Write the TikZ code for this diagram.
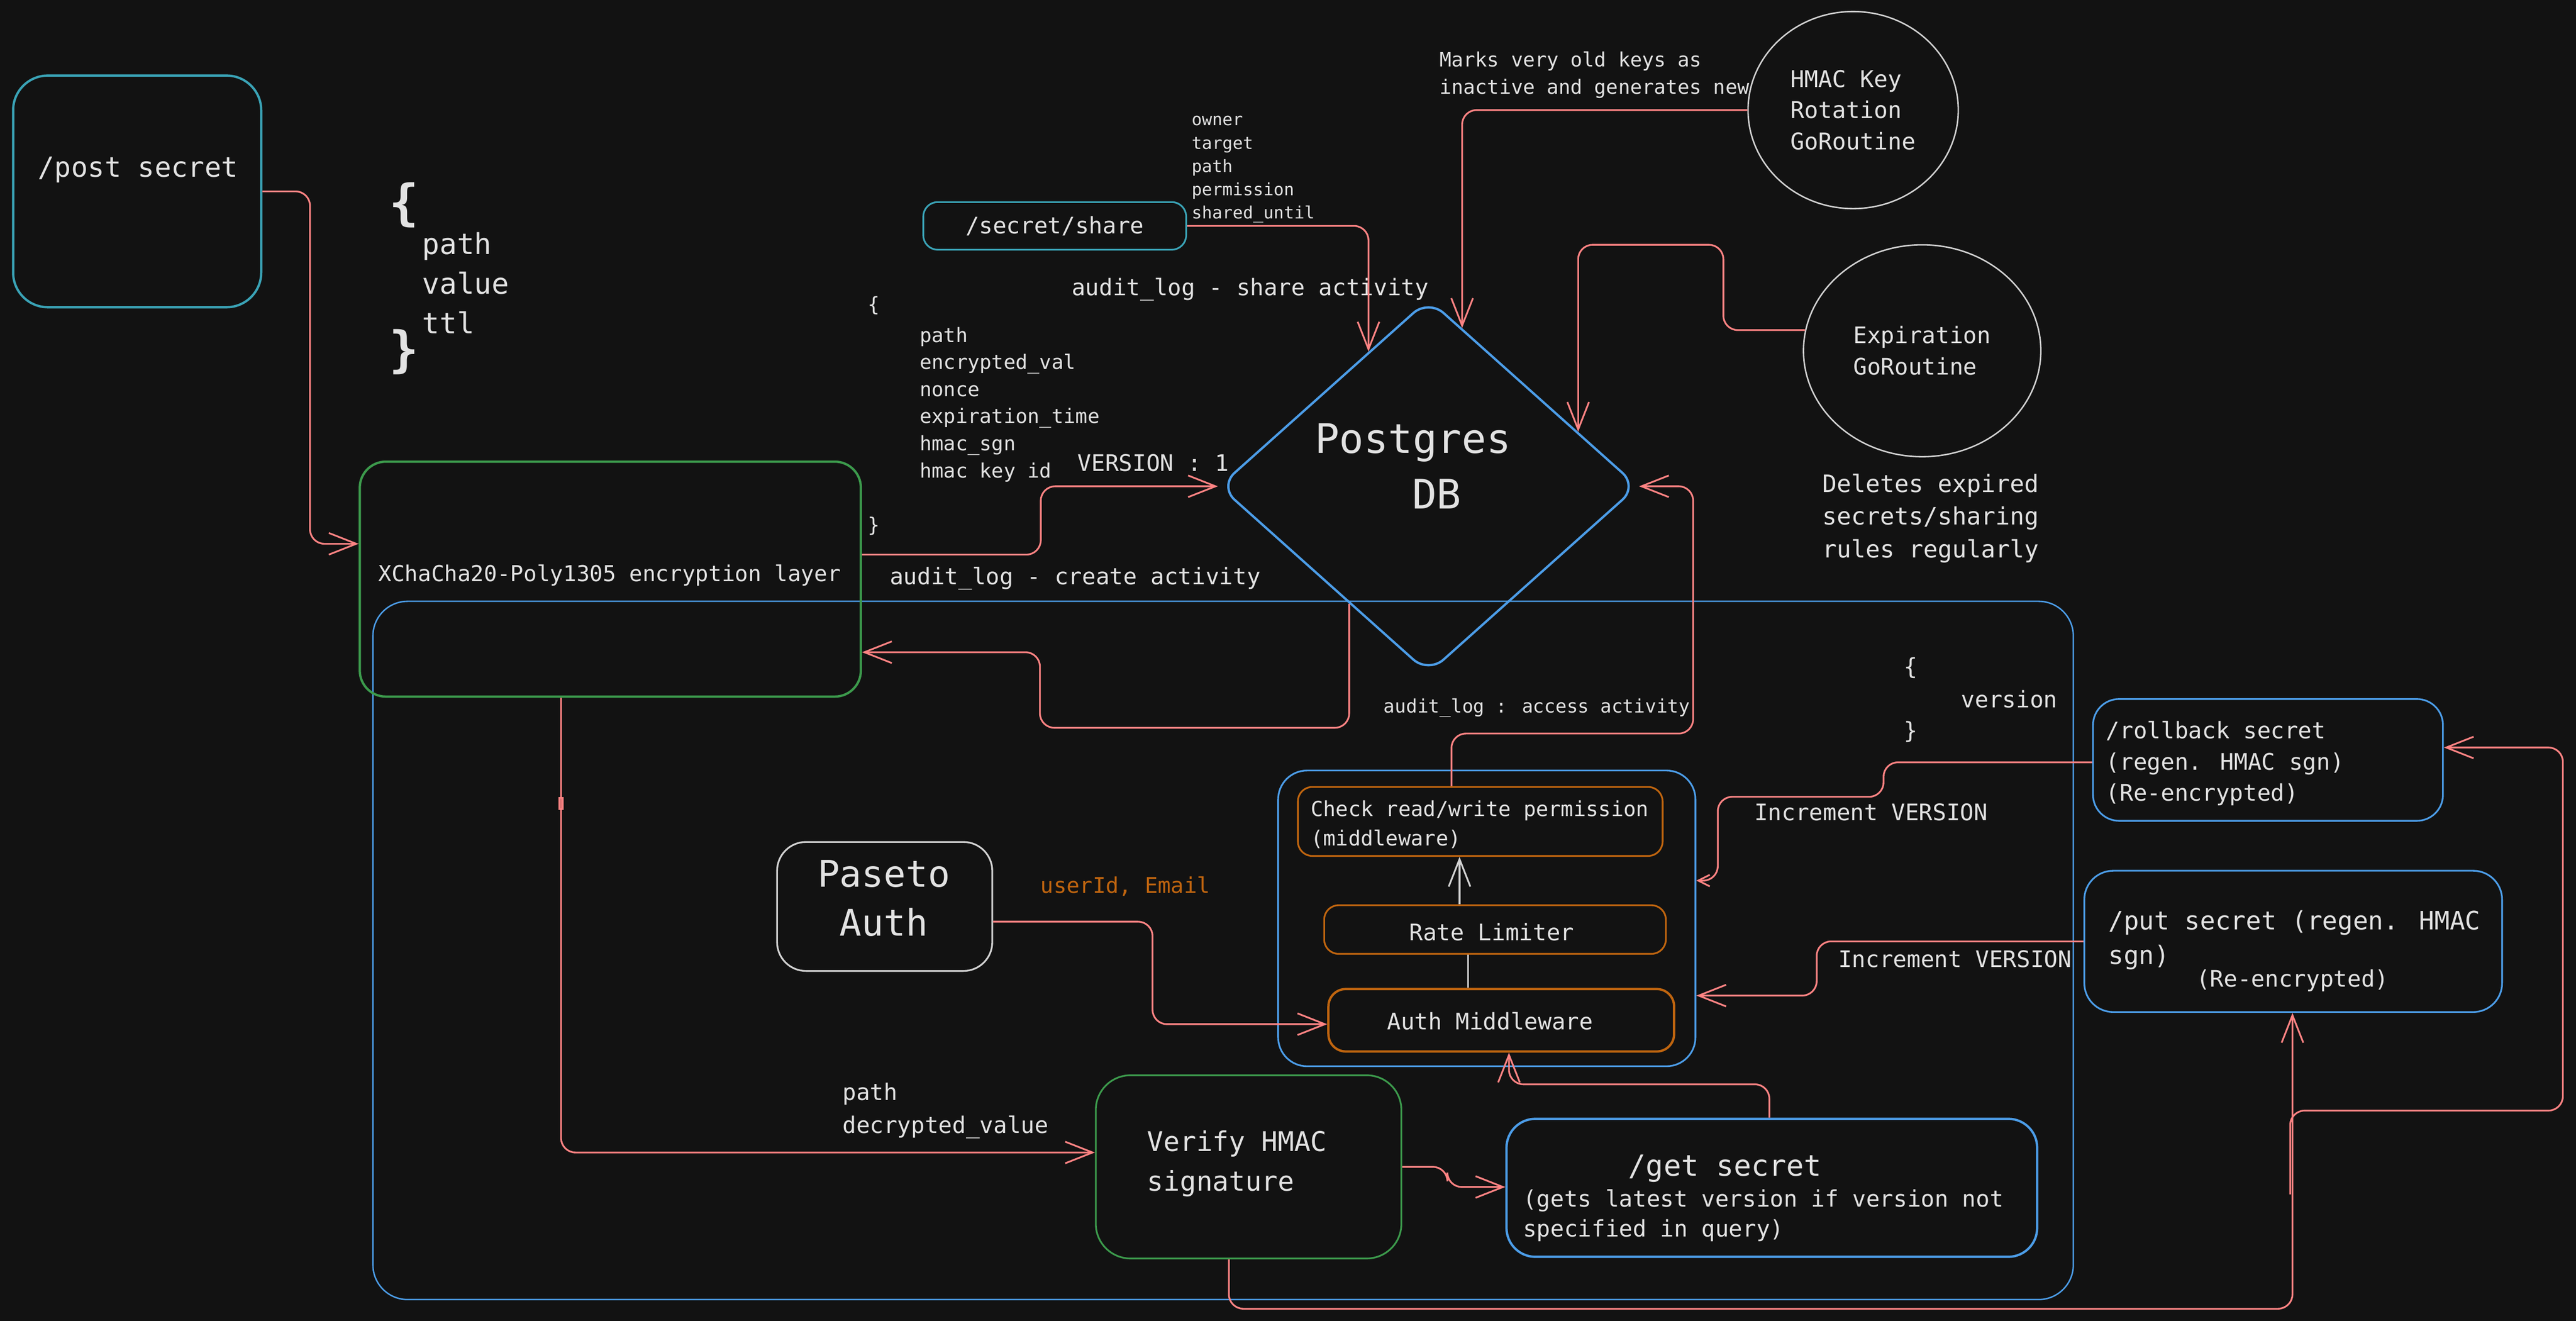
\documentclass[tikz,border=0pt]{standalone}
\usepackage{fontspec}
\setmainfont{DejaVu Sans Mono}
\usepackage{tikz}
\usetikzlibrary{arrows.meta,fit,shapes.geometric}

\definecolor{bgcol}{HTML}{121212}
\definecolor{txtcol}{HTML}{E2E2E2}
\definecolor{redcol}{HTML}{FF8383}
\definecolor{bluecol}{HTML}{4C9DE8}
\definecolor{cyancol}{HTML}{3AA3B6}
\definecolor{greencol}{HTML}{3C9A4C}
\definecolor{orangecol}{HTML}{C0650F}
\definecolor{graycol}{HTML}{D2D2D2}

\newcommand{\tsize}[2]{\fontsize{#1}{#2}\selectfont}

\begin{document}
\begin{tikzpicture}[x=0.02cm, y=-0.02cm]
    \tikzstyle{txt} = [text=txtcol, inner sep=0pt, text height=0.74em, text depth=0.2em, font=\tsize{7.9}{9.5}]
    \tikzstyle{rbox} = [draw, line width=0.6pt, rounded corners=8pt, inner sep=0pt]
    \tikzstyle{sketch} = [line width=0.8pt]
    \tikzstyle{arr} = [draw=redcol, line width=0.6pt, rounded corners=5pt, -{Straight Barb[length=9.5pt,width=7.5pt]}]
    \tikzstyle{smallarr} = [draw=redcol, line width=0.6pt, rounded corners=5pt, -{Straight Barb[length=4pt,width=4pt]}]
    \tikzstyle{roundproc} = [ellipse, draw=graycol, line width=0.5pt, inner sep=0pt, text=txtcol, align=left]

    % Canvas
    \useasboundingbox (0,0) rectangle (1568,804);
    \fill[bgcol] (0,0) rectangle (1568,804);

    % API container
    \node[rbox, draw=bluecol, line width=0.5pt, rounded corners=12pt, fit={(227,366) (1262,791)}] (api) {};

    % /post secret and its body
    \node[rbox, sketch, draw=cyancol, rounded corners=12pt, fit={(8,46) (159,187)}] (post) {};
    \node[txt, font=\tsize{9.6}{11}] (posttxt) at (84,103) {/post secret};
    \node[txt, font=\bfseries\tsize{17}{17}] (postopen) at (246,129) {\{};
    \foreach \f [count=\i from 0] in {path,value,ttl}
        \node[txt, font=\tsize{10}{12}, anchor=west] (postbody\i) at (256.7,150+24.2*\i) {\f};
    \node[txt, font=\bfseries\tsize{17}{17}] (postclose) at (246,218.5) {\}};

    % Encryption layer
    \node[rbox, sketch, draw=greencol, rounded corners=9pt, fit={(219,281) (524,424)}] (enc) {};
    \node[txt, font=\tsize{7.6}{9}, anchor=west] (enctxt) at (230,349) {XChaCha20-Poly1305 encryption layer};

    % Stored record
    \node[txt, font=\tsize{6.9}{8}] (recopen) at (532,184.7) {\{};
    \foreach \f [count=\i from 0] in {path,encrypted\_val,nonce,expiration\_time,hmac\_sgn,hmac key id}
        \node[txt, font=\tsize{6.9}{8}, anchor=west] (recbody\i) at (559.5,203.5+16.5*\i) {\f};
    \node[txt, font=\tsize{6.9}{8}] (recclose) at (532,319) {\}};
    \node[txt] (version1) at (702,282) {VERSION : 1};
    \node[txt] (createlog) at (654.5,351) {audit\_log - create activity};

    % /secret/share
    \node[rbox, draw=cyancol, rounded corners=5pt, fit={(562,123) (722,152)}] (share) {};
    \node[txt] (sharetxt) at (642,137.5) {/secret/share};
    \foreach \f [count=\i from 0] in {owner,target,path,permission,shared\_until}
        \node[txt, font=\tsize{5.9}{7}, anchor=west] (sharebody\i) at (725,71.7+14.2*\i) {\f};
    \node[txt] (sharelog) at (761,175) {audit\_log - share activity};

    % Postgres
    \node[diamond, sketch, draw=bluecol, rounded corners=7pt, minimum width=5.1cm, minimum height=4.56cm, inner sep=0pt] (db) at (869.5,296) {};
    \node[txt, font=\tsize{14.1}{16}, anchor=west] (dbtxt1) at (800,271) {Postgres};
    \node[txt, font=\tsize{14.1}{16}] (dbtxt2) at (874.5,305) {DB};

    % GoRoutines
    \node[roundproc, minimum width=2.56cm, minimum height=2.4cm, font=\tsize{8}{10.8}] (hmac) at (1128,67) {HMAC Key\\Rotation\\GoRoutine};
    \node[txt, font=\tsize{6.85}{8}, anchor=west] (hmacnote1) at (876,36) {Marks very old keys as};
    \node[txt, font=\tsize{6.85}{8}, anchor=west] (hmacnote2) at (876,52.5) {inactive and generates new};
    \node[roundproc, minimum width=2.89cm, minimum height=2.58cm, font=\tsize{7.9}{10.9}] (expire) at (1170,213.5) {Expiration\\GoRoutine};
    \foreach \t [count=\i from 0] in {Deletes expired,secrets/sharing,rules regularly}
        \node[txt, font=\tsize{8.3}{10}, anchor=west] (expirenote\i) at (1109,294.8+20*\i) {\t};

    % Middleware chain
    \node[rbox, draw=bluecol, rounded corners=10pt, fit={(778,469) (1032,649)}] (mw) {};
    \node[rbox, draw=orangecol, rounded corners=5pt, fit={(790,479) (1012,521)}] (perm) {};
    \node[txt, font=\tsize{7.2}{8.5}, anchor=west] (permtxt1) at (797.5,492) {Check read/write permission};
    \node[txt, font=\tsize{7.2}{8.5}, anchor=west] (permtxt2) at (797.5,510) {(middleware)};
    \node[rbox, draw=orangecol, rounded corners=5pt, fit={(806,551) (1014,580.6)}] (rate) {};
    \node[txt] (ratetxt) at (908,567.6) {Rate Limiter};
    \node[rbox, sketch, draw=orangecol, rounded corners=6pt, fit={(808.6,602) (1019,640)}] (auth) {};
    \node[txt] (authtxt) at (907,622) {Auth Middleware};
    \node[txt, font=\tsize{6.45}{8}] (accesslog) at (935.5,429) {audit\_log : access activity};

    % Paseto
    \node[rbox, draw=graycol, rounded corners=10pt, fit={(473,512.5) (604,591)}] (paseto) {};
    \node[txt, font=\tsize{12.7}{14}] (pasetotxt1) at (538,535) {Paseto};
    \node[txt, font=\tsize{12.7}{14}] (pasetotxt2) at (538,565) {Auth};
    \node[txt, text=orangecol, font=\tsize{7.5}{9}] (claims) at (685,539) {userId, Email};

    % Verify and /get secret
    \node[rbox, draw=greencol, rounded corners=12pt, fit={(667,654.5) (853,766)}] (verify) {};
    \node[txt, font=\tsize{9.4}{11}, anchor=west] (verifytxt1) at (698,696) {Verify HMAC};
    \node[txt, font=\tsize{9.4}{11}, anchor=west] (verifytxt2) at (698,720) {signature};
    \node[txt, anchor=west] (decpath) at (512.5,665) {path};
    \node[txt, anchor=west] (decval) at (512.5,685) {decrypted\_value};
    \node[rbox, sketch, draw=bluecol, rounded corners=10pt, fit={(917,681) (1240,765)}] (get) {};
    \node[txt, font=\tsize{10.1}{12}] (gettxt1) at (1050,711) {/get secret};
    \node[txt, anchor=west] (gettxt2) at (926.7,729.7) {(gets latest version if version not};
    \node[txt, anchor=west] (gettxt3) at (926.7,748) {specified in query)};

    % Rollback and put
    \node[txt] (veropen) at (1163,406) {\{};
    \node[txt, anchor=west] (verbody) at (1193.5,426) {version};
    \node[txt] (verclose) at (1163,444.7) {\}};
    \node[rbox, draw=bluecol, rounded corners=9pt, fit={(1274,425.5) (1487,499.6)}] (rollback) {};
    \node[txt, anchor=west] (rbtxt1) at (1281.6,444.7) {/rollback secret};
    \node[txt, anchor=west] (rbtxt2) at (1281.6,464) {(regen. HMAC sgn)};
    \node[txt, anchor=west] (rbtxt3) at (1281.6,482.8) {(Re-encrypted)};
    \node[rbox, draw=bluecol, rounded corners=10pt, fit={(1268.7,530) (1523,616)}] (put) {};
    \node[txt, font=\tsize{8.8}{10}, anchor=west] (puttxt1) at (1283,561) {/put secret (regen. HMAC};
    \node[txt, font=\tsize{8.8}{10}, anchor=west] (puttxt2) at (1283,582) {sgn)};
    \node[txt, anchor=west] (puttxt3) at (1336.6,596) {(Re-encrypted)};
    \node[txt, anchor=west] (incr1) at (1067.5,494.7) {Increment VERSION};
    \node[txt, anchor=west] (incr2) at (1118.6,584) {Increment VERSION};

    % Flows
    \draw[arr] (post.east) -- ++(29,0) |- (enc.west |- 0,331);
    \draw[arr] (share.east) -| (db.114);
    \draw[arr] (hmac.west) -| (db.78);
    \draw[arr] (expire.170) -| (1049,149) -| (db.20);
    \draw[arr] (enc.east |- 0,337.6) -- ++(108.8,0) |- (db.west);
    \draw[arr] (db.236) |- (633,443) |- (enc.east |- 0,397);
    \draw[arr] (enc.south -| 341.5,0) |- (verify.west |- 0,701.5);
    \draw[redcol, line width=0.5pt] (340.3,485.5) rectangle (342.7,492.5);
    \draw[arr] (paseto.east |- 0,561) -- ++(97,0) |- (auth.west |- 0,623.4);
    \draw[arr, draw=graycol] (rate.north -| 888.4,0) -- (perm.south -| 888.4,0);
    \draw[graycol, line width=0.5pt] (rate.south -| 893.6,0) -- (auth.north -| 893.6,0);
    \draw[arr] (perm.north -| 883.5,0) |- (1030.6,446.5) |- (db.east);
    \draw[smallarr] (rollback.west |- 0,464) -| (1146.5,485) -| (1045.6,536) -- (mw.east |- 0,536);
    \draw[arr] (put.west |- 0,573) -| (1105.8,606) -- (mw.east |- 0,606);
    \draw[arr] (verify.east) -| (881,722.5) -- (get.west |- 0,722.5);
    \draw[arr] (get.north -| 1077,0) |- (918.5,660) -- (auth.south -| 918.5,0);
    \draw[arr] (verify.south -| 748,0) |- (1395.4,796.6) -- (put.south -| 1395.4,0);
    \coordinate (rbstart) at (1394,727);
    \draw[arr] (rbstart) |- (1560,676) |- (rollback.east |- 0,455);

\end{tikzpicture}
\end{document}
